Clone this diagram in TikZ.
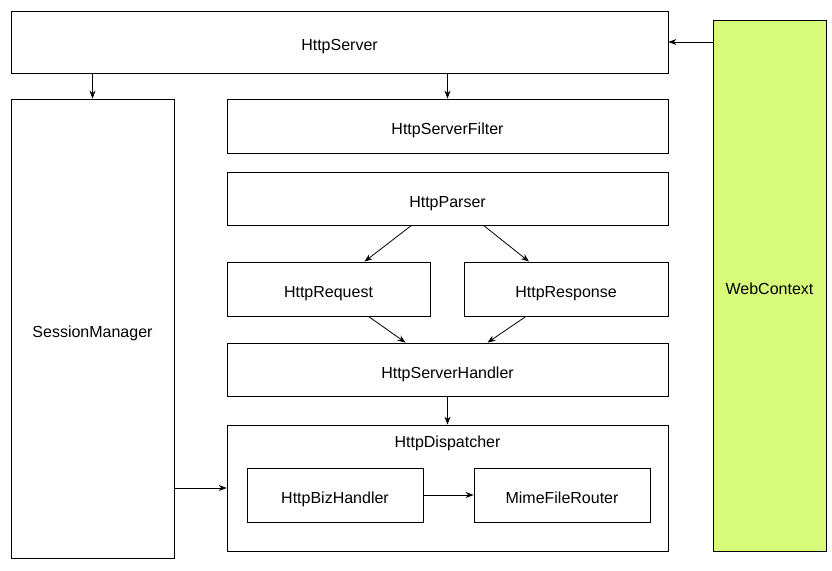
\documentclass[tikz,border=0pt]{standalone}
\usepackage{fontspec}
\setmainfont{Liberation Sans}
\usetikzlibrary{arrows.meta,calc}
\definecolor{ctxgreen}{RGB}{215,250,122}
\begin{document}
\begin{tikzpicture}[
    x=1pt, y=-1pt,
    % Define styles
    caption/.style={
        inner sep=0pt,
        text height=17pt,
        text depth=0pt,
        font=\fontsize{16}{19}\selectfont
    },
    block/.style={
        caption,
        rectangle,
        draw,
        line width=0.8pt
    },
    arrow/.style={
        -{Stealth[length=8pt,width=6pt]},
        line width=0.8pt
    }
]

% Page frame
\useasboundingbox (0,0) rectangle (832,570);

% Outer blocks
\node[block, minimum width=657pt, minimum height=62pt] (server) at (339.5,42) {HttpServer};
\node[block, fill=ctxgreen, minimum width=113pt, minimum height=531pt] (context) at (769.5,285.5) {WebContext};
\node[block, minimum width=163pt, minimum height=459pt] (session) at (92.5,328.5) {SessionManager};

% Pipeline
\node[block, minimum width=441pt, minimum height=54pt] (filter) at (447.5,126) {HttpServerFilter};
\node[block, minimum width=441pt, minimum height=53pt] (parser) at (447.5,198.5) {HttpParser};
\node[block, minimum width=203pt, minimum height=54pt] (request) at (328.5,289) {HttpRequest};
\node[block, minimum width=204pt, minimum height=54pt] (response) at (566,289) {HttpResponse};
\node[block, minimum width=441pt, minimum height=53pt] (handler) at (447.5,369.5) {HttpServerHandler};

% Dispatcher and its inner blocks
\node[block, minimum width=441pt, minimum height=126pt] (dispatcher) at (447.5,488) {};
\node[caption] (dispatchlabel) at (447.5,439) {HttpDispatcher};
\node[block, minimum width=176pt, minimum height=54pt] (biz) at (335,495) {HttpBizHandler};
\node[block, minimum width=176pt, minimum height=54pt] (mime) at (562,495) {MimeFileRouter};

% Arrows
\draw[arrow] (context.west |- server.east) -- (server.east);
\draw[arrow] (server.south -| session.north) -- (session.north);
\draw[arrow] (server.south -| filter.north) -- (filter.north);
\draw[arrow] ($(parser.south)+(-36,0)$) -- ($(request.north)+(36,0)$);
\draw[arrow] ($(parser.south)+(36,0)$) -- ($(response.north)+(-37,0)$);
\draw[arrow] ($(request.south)+(40,0)$) -- ($(handler.north)+(-42,0)$);
\draw[arrow] ($(response.south)+(-40,0)$) -- ($(handler.north)+(40,0)$);
\draw[arrow] (handler.south) -- (dispatcher.north);
\draw[arrow] (session.east |- 0,488) -- (dispatcher.west |- 0,488);
\draw[arrow] (biz.east) -- (mime.west);

\end{tikzpicture}
\end{document}
